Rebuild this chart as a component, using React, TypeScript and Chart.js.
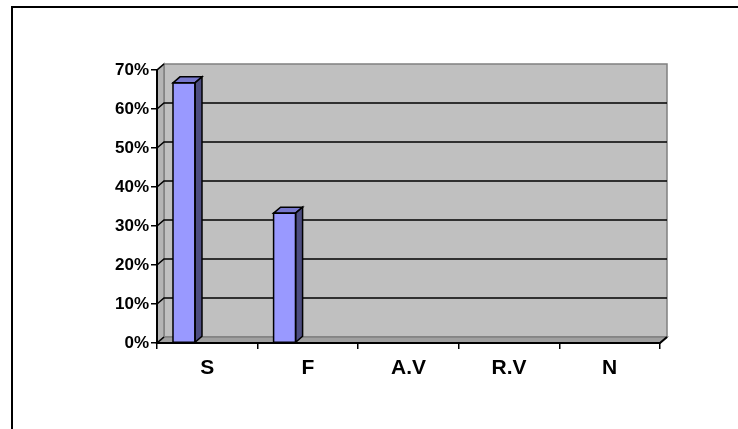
import { useEffect, useRef } from "react";
import { Chart, registerables } from "chart.js";

Chart.register(...registerables);

const categories = ["S", "F", "A.V", "R.V", "N"];
const seriesMain: (number | null)[] = [66.7, 33.3, null, null, null];
const seriesEmpty2: (number | null)[] = [null, null, null, null, null];
const seriesEmpty3: (number | null)[] = [null, null, null, null, null];
const yMin = 0;
const yMax = 70;
const yStep = 10;

const DX = 7;
const DY = -6;

const wallPlugin = {
  id: "wall3d",
  beforeDraw(chart: any) {
    const { ctx, chartArea } = chart;
    const { left, right, top, bottom } = chartArea;
    ctx.save();
    ctx.fillStyle = "#ffffff";
    ctx.fillRect(0, 0, chart.width, chart.height);
    // frame
    ctx.strokeStyle = "#000000";
    ctx.lineWidth = 2;
    ctx.strokeRect(12, 7, 900, 600);

    // back wall
    ctx.fillStyle = "#C0C0C0";
    ctx.fillRect(left + DX, top + DY, right - left, bottom - top);
    ctx.strokeStyle = "#808080";
    ctx.lineWidth = 1.5;
    ctx.strokeRect(left + DX, top + DY, right - left, bottom - top);

    // left side wall
    ctx.beginPath();
    ctx.moveTo(left, top);
    ctx.lineTo(left + DX, top + DY);
    ctx.lineTo(left + DX, bottom + DY);
    ctx.lineTo(left, bottom);
    ctx.closePath();
    ctx.fillStyle = "#B4B4B4";
    ctx.fill();
    ctx.stroke();

    // floor
    ctx.beginPath();
    ctx.moveTo(left, bottom);
    ctx.lineTo(left + DX, bottom + DY);
    ctx.lineTo(right + DX, bottom + DY);
    ctx.lineTo(right, bottom);
    ctx.closePath();
    ctx.fillStyle = "#A0A0A0";
    ctx.fill();
    ctx.strokeStyle = "#808080";
    ctx.stroke();

    // gridlines on back wall + left wall diagonals
    const ys = chart.scales.y;
    ctx.strokeStyle = "#000000";
    ctx.lineWidth = 1.6;
    for (let v = yMin + yStep; v <= yMax; v += yStep) {
      const y = ys.getPixelForValue(v);
      ctx.beginPath();
      ctx.moveTo(left, y);
      ctx.lineTo(left + DX, y + DY);
      if (v < yMax) ctx.lineTo(right + DX, y + DY);
      ctx.stroke();
    }
    {
      const y = ys.getPixelForValue(yMin);
      ctx.beginPath();
      ctx.moveTo(left, y);
      ctx.lineTo(left + DX, y + DY);
      ctx.stroke();
    }
    // x axis front edge and right diagonal
    ctx.lineWidth = 2;
    ctx.beginPath();
    ctx.moveTo(left, bottom);
    ctx.lineTo(right, bottom);
    ctx.lineTo(right + DX, bottom + DY);
    ctx.stroke();
    ctx.restore();
  },
  afterDatasetsDraw(chart: any) {
    const { ctx } = chart;
    ctx.save();
    ctx.lineWidth = 1.5;
    ctx.strokeStyle = "#000000";
    chart.data.datasets.forEach((ds: any, i: number) => {
      const meta = chart.getDatasetMeta(i);
      meta.data.forEach((bar: any, j: number) => {
        if (ds.data[j] == null) return;
        const props = bar.getProps(["x", "y", "base", "width"], true);
        const l = props.x - props.width / 2;
        const r = props.x + props.width / 2;
        const t = props.y;
        const b = props.base;
        // top face
        ctx.beginPath();
        ctx.moveTo(l, t);
        ctx.lineTo(l + DX, t + DY);
        ctx.lineTo(r + DX, t + DY);
        ctx.lineTo(r, t);
        ctx.closePath();
        ctx.fillStyle = "#7777CC";
        ctx.fill();
        ctx.stroke();
        // side face
        ctx.beginPath();
        ctx.moveTo(r, t);
        ctx.lineTo(r + DX, t + DY);
        ctx.lineTo(r + DX, b + DY);
        ctx.lineTo(r, b);
        ctx.closePath();
        ctx.fillStyle = "#4D4D80";
        ctx.fill();
        ctx.stroke();
        // front outline
        ctx.strokeRect(l, t, r - l, b - t);
      });
    });
    ctx.restore();
  },
};

export default function App() {
  const ref = useRef<HTMLCanvasElement | null>(null);
  useEffect(() => {
    if (!ref.current) return;
    const chart = new Chart(ref.current, {
      type: "bar",
      data: {
        labels: categories,
        datasets: [
          { label: "Series1", data: seriesMain, backgroundColor: "#9999FF", borderWidth: 0 },
          { label: "Series2", data: seriesEmpty2, backgroundColor: "#993366", borderWidth: 0 },
          { label: "Series3", data: seriesEmpty3, backgroundColor: "#FFFFCC", borderWidth: 0 },
        ],
      },
      options: {
        responsive: false,
        animation: false,
        devicePixelRatio: 1,
        layout: { padding: { left: 0, right: 78, top: 70, bottom: 0 } },
        categoryPercentage: 0.695,
        barPercentage: 0.944,
        plugins: { legend: { display: false }, tooltip: { enabled: false } },
        scales: {
          x: {
            grid: { display: true, drawOnChartArea: false, tickLength: 6, color: "#000000", lineWidth: 1.5 },
            border: { display: false },
            ticks: { color: "#000000", padding: 7, font: { family: "Arial, 'Liberation Sans', sans-serif", size: 21, weight: "bold" } },
            afterFit: (s: any) => { s.height = 86; },
          },
          y: {
            min: yMin,
            max: yMax,
            grid: { display: true, drawOnChartArea: false, tickLength: 6, color: "#000000", lineWidth: 1.5 },
            border: { display: true, color: "#000000", width: 2 },
            ticks: {
              stepSize: yStep,
              color: "#000000",
              padding: 2,
              font: { family: "Arial, 'Liberation Sans', sans-serif", size: 17, weight: "bold" },
              callback: (v: any) => v + "%",
            },
            afterFit: (s: any) => { s.width = 157; },
          },
        },
      } as any,
      plugins: [wallPlugin],
    });
    return () => chart.destroy();
  }, []);
  return (
    <div style={{ position: "absolute", left: 0, top: 0, width: 738, height: 429 }}>
      <canvas ref={ref} width={738} height={429} style={{ display: "block" }} />
    </div>
  );
}
